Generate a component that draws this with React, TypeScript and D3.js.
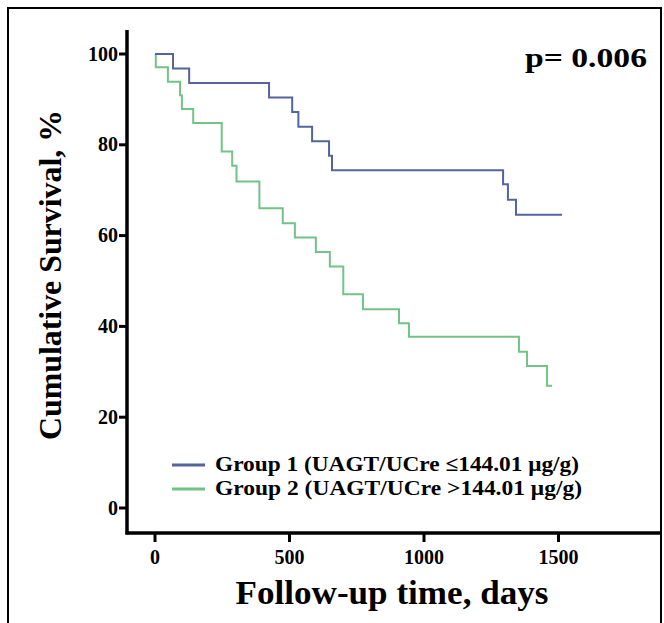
import React from "react";
import * as d3 from "d3";

const g1Times = [0, 67, 127, 424, 510, 533, 584, 647, 658, 1294, 1312, 1342, 1513];
const g1Surv = [100, 96.8, 93.6, 90.4, 87.2, 84.0, 80.8, 77.6, 74.4, 71.3, 67.9, 64.6, 64.6];

const g2Times = [0, 3, 48, 93, 100, 142, 248, 287, 303, 388, 475, 520, 598, 650, 700, 773, 907, 944, 1353, 1383, 1457, 1476];
const g2Surv = [100, 97.1, 93.9, 90.9, 87.9, 84.8, 78.5, 75.4, 71.9, 66.0, 62.7, 59.6, 56.4, 53.2, 47.1, 43.8, 40.7, 37.7, 34.4, 31.3, 26.9, 26.9];

const xTicks = [0, 500, 1000, 1500];
const yTicks = [0, 20, 40, 60, 80, 100];

const seriesNames = ["Group 1 (UAGT/UCre \u2264144.01 \u03bcg/g)", "Group 2 (UAGT/UCre >144.01 \u03bcg/g)"];
const seriesColors = ["#5563a0", "#72c486"];

const W = 664;
const H = 623;

export default function App() {
  const x = d3.scaleLinear().domain([0, 500]).range([155, 289.5]);
  const y = d3.scaleLinear().domain([0, 100]).range([508, 54]);
  const xAxisY = 533;
  const yAxisX = 127;
  const xEnd = 662;
  const yTop = 30;

  const line = d3
    .line<[number, number]>()
    .x((d) => x(d[0]))
    .y((d) => y(d[1]))
    .curve(d3.curveStepAfter);

  const s1: [number, number][] = g1Times.map((t, i) => [t, g1Surv[i]]);
  const s2: [number, number][] = g2Times.map((t, i) => [t, g2Surv[i]]);
  const font = "'Liberation Serif', 'Times New Roman', serif";

  return (
    <svg
      width={W}
      height={H}
      style={{ position: "absolute", left: 0, top: 0, background: "#fff" }}
      fontFamily={font}
      fontWeight="bold"
    >
      <rect x={8} y={8} width={653} height={640} fill="none" stroke="#000" strokeWidth={2} />
      {/* curves */}
      <path d={line(s2) || ""} fill="none" stroke={seriesColors[1]} strokeWidth={2} />
      <path d={line(s1) || ""} fill="none" stroke={seriesColors[0]} strokeWidth={2} />
      {/* axes */}
      <line x1={yAxisX} x2={yAxisX} y1={yTop} y2={xAxisY + 1.5} stroke="#000" strokeWidth={3.5} />
      <line x1={yAxisX - 1.5} x2={xEnd} y1={xAxisY} y2={xAxisY} stroke="#000" strokeWidth={3.5} />
      {yTicks.map((t) => (
        <g key={"y" + t}>
          <line x1={yAxisX - 8} x2={yAxisX} y1={y(t)} y2={y(t)} stroke="#000" strokeWidth={3} />
          <text x={yAxisX - 9} y={y(t) + 6.5} textAnchor="end" fontSize={20}>
            {t}
          </text>
        </g>
      ))}
      {xTicks.map((t) => (
        <g key={"x" + t}>
          <line x1={x(t)} x2={x(t)} y1={xAxisY} y2={xAxisY + 9} stroke="#000" strokeWidth={3} />
          <text x={x(t)} y={xAxisY + 31} textAnchor="middle" fontSize={20}>
            {t}
          </text>
        </g>
      ))}
      <text
        transform={`translate(50,${275}) rotate(-90)`}
        textAnchor="middle"
        fontSize={31}
        y={11}
        textLength={330}
        lengthAdjust="spacingAndGlyphs"
      >
        Cumulative Survival, %
      </text>
      <text
        x={392}
        y={604}
        textAnchor="middle"
        fontSize={33}
        textLength={313}
        lengthAdjust="spacingAndGlyphs"
      >
        Follow-up time, days
      </text>
      <text
        x={647}
        y={67}
        textAnchor="end"
        fontSize={27}
        textLength={122}
        lengthAdjust="spacingAndGlyphs"
      >
        p= 0.006
      </text>
      {seriesNames.map((n, i) => (
        <g key={n}>
          <line x1={172} x2={205} y1={465 + i * 24} y2={465 + i * 24} stroke={seriesColors[i]} strokeWidth={3} />
          <text
            x={215}
            y={471 + i * 24}
            fontSize={21}
            textLength={i === 0 ? 364 : 367}
            lengthAdjust="spacingAndGlyphs"
          >
            {n}
          </text>
        </g>
      ))}
    </svg>
  );
}
